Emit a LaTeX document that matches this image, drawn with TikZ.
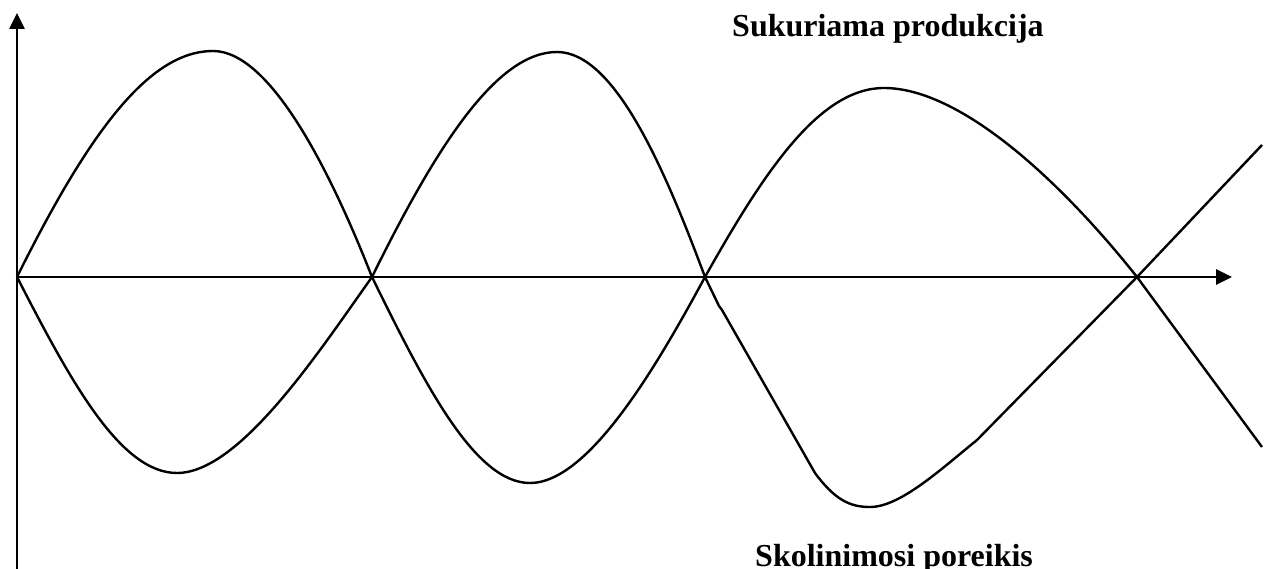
\documentclass[tikz,border=0pt]{standalone}
\usepackage{fontspec}
\setmainfont{Liberation Serif}
\usetikzlibrary{arrows.meta}
\tikzset{
    axis/.style={line width=2.6pt,-{Triangle[length=16pt,width=15pt]}},
    curve/.style={line width=2.4pt,line join=round},
    caption/.style={font=\fontsize{32}{38}\selectfont\bfseries,inner sep=0pt}
}
\begin{document}
\begin{tikzpicture}[x=1pt,y=-1pt]

    % page frame
    \useasboundingbox (0,0) rectangle (1274,569);

    % crossing points on the x axis
    \coordinate (O) at (17,277);
    \coordinate (Z1) at (372,277);
    \coordinate (Z2) at (705,277);
    \coordinate (Z3) at (1137,277);

    % axes
    \coordinate (ybot) at (17,569);
    \coordinate (ytop) at (17,13);
    \coordinate (xend) at (1232,277);
    \draw[axis] (ybot) -- (ytop);
    \draw[axis] (O) -- (xend);

    % production curve
    \draw[curve] (O) .. controls (90,130) and (150,51) .. (213,51)
        .. controls (270,51) and (330,170) .. (Z1);
    \draw[curve] (Z1) .. controls (437,145) and (497,52) .. (557,52)
        .. controls (615,52) and (665,170) .. (Z2);
    \draw[curve] (Z2) .. controls (765,170) and (820,88) .. (884,88)
        .. controls (960,88) and (1060,180) .. (Z3) -- (1262,447);

    % borrowing curve
    \draw[curve] (O) .. controls (70,380) and (120,473) .. (177,473)
        .. controls (240,473) and (320,350) .. (Z1);
    \draw[curve] (Z1) .. controls (425,385) and (475,483) .. (530,483)
        .. controls (590,483) and (660,360) .. (Z2);
    \draw[curve] (Z2) -- (719,306) -- (722,310) -- (815,473)
        .. controls (835,500) and (850,507) .. (870,507)
        .. controls (900,507) and (940,470) .. (977,440)
        -- (Z3) -- (1262,145);

    % labels
    \node[caption,anchor=base west] (prod) at (732,37) {Sukuriama produkcija};
    \node[caption,anchor=base west] (need) at (755,566) {Skolinimosi poreikis};

\end{tikzpicture}
\end{document}
